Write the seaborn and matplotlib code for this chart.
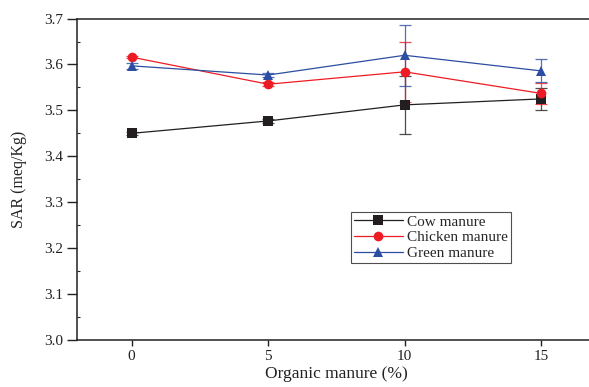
import matplotlib
matplotlib.use("Agg")
import matplotlib.pyplot as plt
import seaborn as sns
import pandas as pd
from matplotlib.ticker import MultipleLocator

sns.set_style("ticks")
plt.rcParams['font.family'] = ['Liberation Serif', 'DejaVu Serif']

doses = [0, 5, 10, 15]
cow = [3.450, 3.477, 3.512, 3.525]
chicken = [3.616, 3.557, 3.584, 3.537]
green = [3.597, 3.577, 3.620, 3.586]
cow_err = [0.003, 0.004, 0.063, 0.024]
chicken_err = [0.003, 0.004, 0.066, 0.023]
green_err = [0.006, 0.005, 0.066, 0.025]

series_names = ["Cow manure", "Chicken manure", "Green manure"]
colors = ["#231f20", "#ed1c24", "#2b4ea2"]
markers = ["s", "o", "^"]

df = pd.DataFrame({
    "dose": doses * 3,
    "SAR": cow + chicken + green,
    "err": cow_err + chicken_err + green_err,
    "series": sum([[n] * len(doses) for n in series_names], []),
})

fig = plt.figure(figsize=(5.89, 3.87), dpi=100)
ax = fig.add_axes([0.1307, 0.1214, 0.8807, 0.8307])

for name, c, m in zip(series_names, colors, markers):
    sub = df[df.series == name]
    ax.errorbar(sub.dose, sub.SAR, yerr=sub.err, fmt="none", ecolor=c,
                elinewidth=0.9, capsize=4, capthick=0.9, alpha=0.8, zorder=2)

sns.lineplot(data=df, x="dose", y="SAR", hue="series", style="series",
             palette=dict(zip(series_names, colors)),
             markers=dict(zip(series_names, markers)), dashes=False,
             markersize=7, linewidth=0.9, markeredgewidth=0, ax=ax, zorder=3)

ax.set_xlim(-2, 17)
ax.set_ylim(3.0, 3.7)
ax.set_xticks(doses)
ax.yaxis.set_major_locator(MultipleLocator(0.1))
ax.yaxis.set_minor_locator(MultipleLocator(0.05))
ax.tick_params(axis='both', which='major', direction='out', width=1, labelsize=11, colors='#222222')
ax.tick_params(axis='y', which='major', length=7, pad=3)
ax.tick_params(axis='x', which='major', length=4.5, pad=3)
ax.tick_params(axis='y', which='minor', direction='in', length=2, width=0.8)
ax.set_xlabel("Organic manure (%)", fontsize=12.5, color='#222222', labelpad=2)
ax.set_ylabel("SAR (meq/Kg)", fontsize=11.5, color='#222222', labelpad=12)
for s in ["left", "bottom", "top"]:
    ax.spines[s].set_linewidth(1.1)
    ax.spines[s].set_color('#222222')
ax.spines["right"].set_visible(False)

leg = ax.legend(loc="upper left", bbox_to_anchor=(0.528, 0.398), fontsize=11,
                frameon=True, fancybox=False, edgecolor='#222222',
                borderpad=0.2, labelspacing=0.12, handlelength=3.2, handletextpad=0.3,
                borderaxespad=0)
leg.get_frame().set_linewidth(0.8)

fig.savefig("out.png", dpi=100)
